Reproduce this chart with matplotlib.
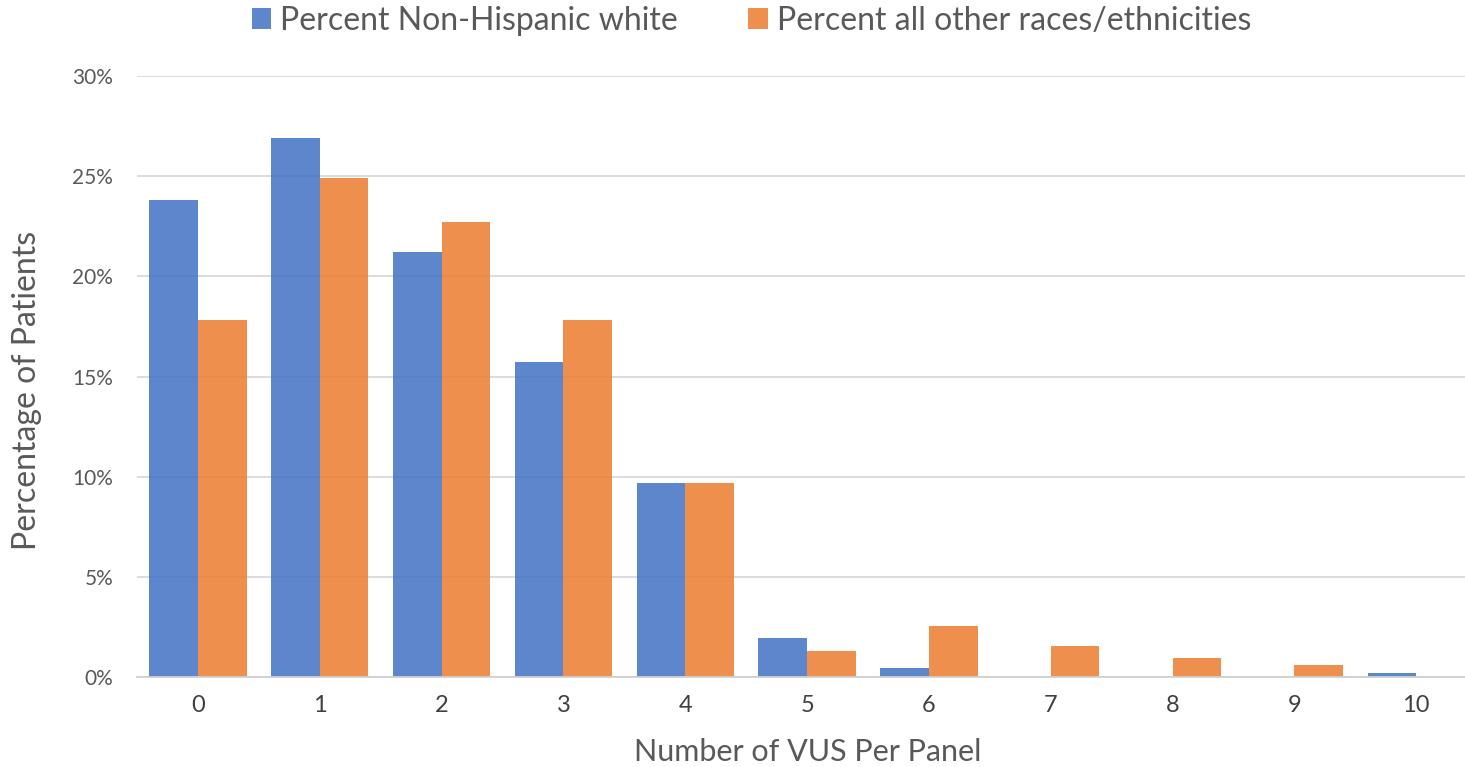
import matplotlib
matplotlib.use("Agg")
import matplotlib.pyplot as plt
import numpy as np
from matplotlib.ticker import FuncFormatter

# share of patients by number of VUS reported per panel
vus_counts = ["0", "1", "2", "3", "4", "5", "6", "7", "8", "9", "10"]
pct_white = [23.8, 26.9, 21.2, 15.7, 9.7, 1.95, 0.45, 0.0, 0.0, 0.0, 0.2]
pct_other = [17.8, 24.9, 22.7, 17.8, 9.7, 1.3, 2.55, 1.55, 0.95, 0.6, 0.0]

label_white = "Percent Non-Hispanic white"
label_other = "Percent all other races/ethnicities"

blue = "#4472C4"
orange = "#ED7D31"
grey_text = "#595959"

plt.rcParams['font.family'] = ['Lato', 'DejaVu Sans']

fig = plt.figure(figsize=(14.65, 7.67), dpi=100)
ax = fig.add_axes([0.0935, 0.1173, 0.9065, 0.7836])

x = np.arange(len(vus_counts))
w = 0.4
ax.bar(x - w / 2, pct_white, w, color=blue, alpha=0.86, label=label_white, zorder=2)
ax.bar(x + w / 2, pct_other, w, color=orange, alpha=0.86, label=label_other, zorder=2)

ax.set_xlim(-0.5, 10.4)
ax.set_ylim(0, 30)
ax.set_yticks(range(0, 31, 5))
ax.yaxis.set_major_formatter(FuncFormatter(lambda v, p: f"{int(v)}%"))
ax.set_xticks(x)
ax.set_xticklabels(vus_counts)

ax.grid(axis="y", color="#d9d9d9", linewidth=1.3, zorder=1)
ax.set_axisbelow(True)
for s in ["top", "right", "left"]:
    ax.spines[s].set_visible(False)
ax.spines["bottom"].set_color("#d0d0d0")
ax.spines["bottom"].set_linewidth(1.3)

ax.tick_params(axis="y", length=0, pad=17, labelsize=15, labelcolor=grey_text)
ax.tick_params(axis="x", length=0, pad=13, labelsize=17, labelcolor="#404040")

ax.set_xlabel("Number of VUS Per Panel", fontsize=22, color=grey_text, va="center")
ax.xaxis.set_label_coords(0.5053, -0.125)
ax.set_ylabel("Percentage of Patients", fontsize=23, color=grey_text, va="center")
ax.yaxis.set_label_coords(-0.0828, 0.4775)

ax.legend(loc="center", bbox_to_anchor=(0.513, 0.973),
          bbox_transform=fig.transFigure, ncol=2, frameon=False,
          fontsize=23, labelcolor=grey_text, handlelength=0.6, handleheight=0.6,
          handletextpad=0.3, columnspacing=2.2, borderaxespad=0.0)

fig.savefig("out.png", dpi=100)
